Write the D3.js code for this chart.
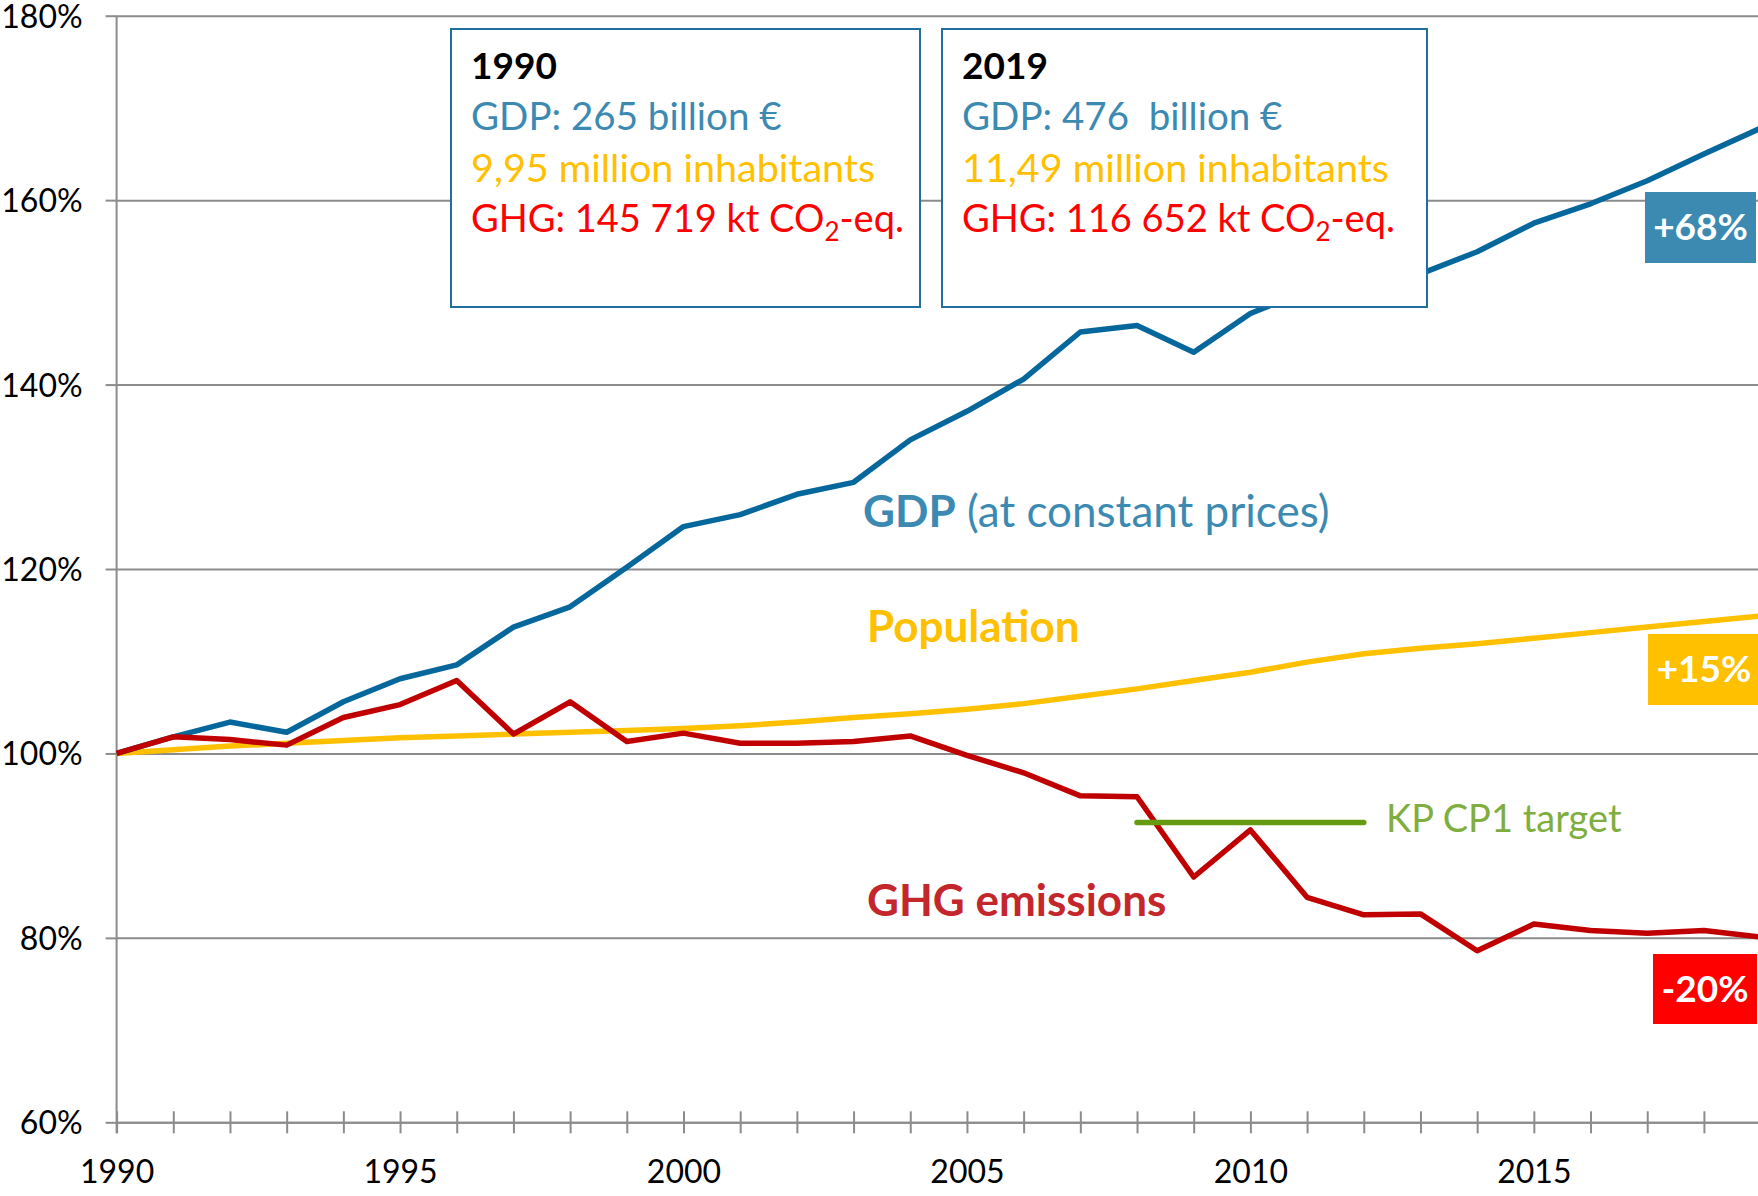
<!DOCTYPE html>
<html>
<head>
<meta charset="utf-8">
<script src="https://cdn.jsdelivr.net/npm/d3@7"></script>
<style>
  body { margin: 0; background: #fff; }
  svg { display: block; }
  text { font-family: Lato, "Open Sans", sans-serif; }
</style>
</head>
<body>
<div id="main"></div>
<script>
// index 1990 = 100%
const years = [1990, 1991, 1992, 1993, 1994, 1995, 1996, 1997, 1998, 1999,
               2000, 2001, 2002, 2003, 2004, 2005, 2006, 2007, 2008, 2009,
               2010, 2011, 2012, 2013, 2014, 2015, 2016, 2017, 2018, 2019];
const gdp = [100, 101.8, 103.4, 102.3, 105.6, 108.1, 109.6, 113.7, 115.9, 120.2,
             124.6, 125.9, 128.1, 129.4, 134.0, 137.1, 140.6, 145.7, 146.4, 143.5,
             147.7, 150.2, 151.3, 152.0, 154.4, 157.5, 159.6, 162.1, 165.0, 167.8];
const population = [100, 100.4, 100.8, 101.1, 101.4, 101.7, 101.9, 102.1, 102.3, 102.5,
                    102.7, 103.0, 103.4, 103.9, 104.3, 104.8, 105.4, 106.2, 107.0, 107.9,
                    108.8, 109.9, 110.8, 111.4, 111.9, 112.5, 113.1, 113.7, 114.3, 114.9];
const ghg = [100, 101.8, 101.5, 100.9, 103.9, 105.3, 107.9, 102.1, 105.6, 101.3,
             102.2, 101.1, 101.1, 101.3, 101.9, 99.8, 97.9, 95.4, 95.3, 86.6,
             91.7, 84.4, 82.5, 82.6, 78.6, 81.5, 80.8, 80.5, 80.8, 80.1];
const kpTarget = [{year: 2008, v: 92.5}, {year: 2012, v: 92.5}];
const yTicks = [60, 80, 100, 120, 140, 160, 180];
const xLabelYears = [1990, 1995, 2000, 2005, 2010, 2015];

const infoBoxes = [
    {year: "1990", gdp: "GDP: 265 billion €", pop: "9,95 million inhabitants", ghg: "GHG: 145 719 kt CO"},
    {year: "2019", gdp: "GDP: 476  billion €", pop: "11,49 million inhabitants", ghg: "GHG: 116 652 kt CO"}
];
const changeLabels = [
    {text: "+68%", fill: "#3c8ab2"},
    {text: "+15%", fill: "#ffc000"},
    {text: "-20%", fill: "#ff0000"}
];

const ctx = {
    w: 1758,
    h: 1196,
    x0: 116.6,
    x1: 1760.6,
    yTop: 15.7,
    yBot: 1122.3,
    grid: "#8c8c8c",
    cGdp: "#05679b",
    cPop: "#ffc000",
    cGhg: "#c00000",
    tGdp: "#3c8ab2",
    tGhg: "#c3272b",
    cKp: "#669a10",
    tKp: "#80ae3e"
};

const svg = d3.select("#main").append("svg")
    .attr("width", ctx.w)
    .attr("height", ctx.h);

const x = d3.scaleLinear().domain([1990, 2019]).range([ctx.x0, ctx.x1]);
const y = d3.scaleLinear().domain([60, 180]).range([ctx.yBot, ctx.yTop]);

// gridlines
svg.append("g")
    .attr("transform", `translate(${ctx.x0},0)`)
    .call(d3.axisLeft(y).tickValues(yTicks).tickSize(-(ctx.w - ctx.x0)).tickFormat(""))
    .call(g => g.select(".domain").remove())
    .call(g => g.selectAll("line").attr("stroke", ctx.grid).attr("stroke-width", 2));

// y axis
svg.append("g")
    .attr("transform", `translate(${ctx.x0},0)`)
    .call(d3.axisLeft(y).tickValues(yTicks).tickSizeInner(11).tickSizeOuter(0)
            .tickPadding(23).tickFormat(d => d + "%"))
    .call(g => g.select(".domain").remove())
    .call(g => g.selectAll("line").attr("stroke", ctx.grid).attr("stroke-width", 2))
    .call(g => g.selectAll("text").attr("font-size", 32).attr("fill", "#000")
                .attr("dy", "0.36em")
                .style("font-family", "Lato, sans-serif"));

svg.append("line")
    .attr("x1", ctx.x0).attr("x2", ctx.x0)
    .attr("y1", ctx.yTop).attr("y2", ctx.yBot + 11)
    .attr("stroke", ctx.grid).attr("stroke-width", 2);

// x axis
svg.append("g")
    .attr("transform", `translate(0,${ctx.yBot})`)
    .call(d3.axisBottom(x).tickValues(years).tickSizeInner(11).tickSizeOuter(0)
            .tickFormat(d => xLabelYears.includes(d) ? d : ""))
    .call(g => g.select(".domain").attr("stroke", ctx.grid).attr("stroke-width", 2))
    .call(g => g.selectAll("line").attr("y1", -11).attr("stroke", ctx.grid).attr("stroke-width", 2))
    .call(g => g.selectAll("text").attr("y", 38).attr("font-size", 32).attr("fill", "#000")
                .style("font-family", "Lato, sans-serif"));

// series
const line = d3.line().x((d, i) => x(years[i])).y(d => y(d));
const series = [
    {values: population, color: ctx.cPop},
    {values: gdp, color: ctx.cGdp},
    {values: ghg, color: ctx.cGhg}
];
svg.selectAll("path.series")
    .data(series)
    .enter()
    .append("path")
    .attr("class", "series")
    .attr("d", d => line(d.values))
    .attr("fill", "none")
    .attr("stroke", d => d.color)
    .attr("stroke-width", 5.5)
    .attr("stroke-linejoin", "round");

// Kyoto target
svg.append("path")
    .attr("d", d3.line().x(d => x(d.year)).y(d => y(d.v))(kpTarget))
    .attr("stroke", ctx.cKp)
    .attr("stroke-width", 5.5)
    .attr("stroke-linecap", "round");
svg.append("text")
    .attr("x", 1386).attr("y", 832)
    .attr("font-size", 38).attr("fill", ctx.tKp)
    .text("KP CP1 target");

// series labels
const gdpLabel = svg.append("text").attr("x", 863).attr("y", 527)
    .attr("font-size", 44).attr("fill", ctx.tGdp);
gdpLabel.append("tspan").attr("font-weight", "bold").text("GDP");
gdpLabel.append("tspan").text(" (at constant prices)");

svg.append("text").attr("x", 867).attr("y", 642)
    .attr("font-size", 44).attr("font-weight", "bold").attr("fill", ctx.cPop)
    .text("Population");

svg.append("text").attr("x", 867).attr("y", 916)
    .attr("font-size", 44).attr("font-weight", "bold").attr("fill", ctx.tGhg)
    .text("GHG emissions");

// info boxes
const boxPos = [{x: 451, y: 29, w: 469, h: 278}, {x: 942, y: 29, w: 485, h: 278}];
const boxes = svg.selectAll("g.info")
    .data(infoBoxes)
    .enter()
    .append("g")
    .attr("class", "info")
    .attr("transform", (d, i) => `translate(${boxPos[i].x},${boxPos[i].y})`);
boxes.append("rect")
    .attr("width", (d, i) => boxPos[i].w)
    .attr("height", (d, i) => boxPos[i].h)
    .attr("fill", "#fff")
    .attr("stroke", "#1f6fa2")
    .attr("stroke-width", 2);
boxes.append("text").attr("x", 20).attr("y", 50)
    .attr("font-size", 37).attr("font-weight", "bold").attr("fill", "#000")
    .text(d => d.year);
boxes.append("text").attr("x", 20).attr("y", 101)
    .attr("font-size", 38.5).attr("fill", ctx.tGdp)
    .style("white-space", "pre")
    .text(d => d.gdp);
boxes.append("text").attr("x", 20).attr("y", 153)
    .attr("font-size", 39.5).attr("fill", "#ffc000")
    .text(d => d.pop);
const ghgText = boxes.append("text").attr("x", 20).attr("y", 203)
    .attr("font-size", 38).attr("fill", "#ff0000");
ghgText.append("tspan").text(d => d.ghg);
ghgText.append("tspan").attr("dy", 9).attr("font-size", 26).text("2");
ghgText.append("tspan").attr("dy", -9).text("-eq.");

// change badges
const badgePos = [{x: 1645, y: 192, w: 111, h: 71}, {x: 1648, y: 634, w: 112, h: 71}, {x: 1653, y: 954, w: 104, h: 70}];
const badges = svg.selectAll("g.badge")
    .data(changeLabels)
    .enter()
    .append("g")
    .attr("class", "badge")
    .attr("transform", (d, i) => `translate(${badgePos[i].x},${badgePos[i].y})`);
badges.append("rect")
    .attr("width", (d, i) => badgePos[i].w)
    .attr("height", (d, i) => badgePos[i].h)
    .attr("fill", d => d.fill);
badges.append("text")
    .attr("x", (d, i) => badgePos[i].w / 2)
    .attr("y", 48)
    .attr("text-anchor", "middle")
    .attr("font-size", 37).attr("font-weight", "bold").attr("fill", "#fff")
    .text(d => d.text);
</script>
</body>
</html>
